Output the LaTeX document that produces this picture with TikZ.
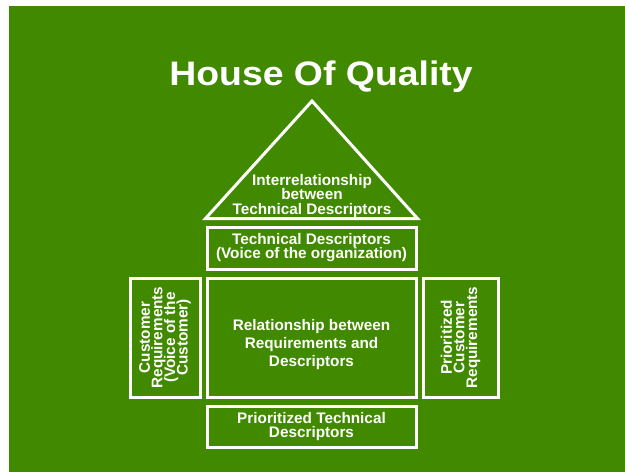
\documentclass[tikz,border=0pt]{standalone}
\usepackage{fontspec}
\setmainfont{Liberation Sans}
\newfontfamily\titlefont[FakeStretch=1.1]{Liberation Sans}
\usetikzlibrary{positioning}
\definecolor{housegreen}{RGB}{65,138,0}
\newcommand\tightlines{\lineskiplimit -20pt\relax}

\begin{document}
\begin{tikzpicture}[x=1pt, y=-1pt,
  part/.style={draw=white, line width=3pt, minimum width=209pt},
  words/.style={text=white, align=center, inner sep=0pt,
    font={\bfseries\fontsize{15.3}{#1}\selectfont\tightlines}},
  words/.default=14]
  \useasboundingbox (0,0) rectangle (625,472);
  \fill[white] (0,0) rectangle (625,472);
  \fill[housegreen] (9,6) rectangle (625,472);

  \node[text=white, anchor=base, font=\titlefont\bfseries\fontsize{34}{40}\selectfont](Title) at (321,85){House Of Quality};

  \node[part, minimum height=119pt](REL) at (311.5,337.5){};
  \node[words=18.3, yshift=-7pt](RELtext) at (REL){Relationship between\\Requirements and\\Descriptors};
  \node[part, words, minimum height=42pt, above=6pt of REL](TD){Technical Descriptors\\(Voice of the organization)};
  \node[part, words, minimum height=41pt, below=6pt of REL](PTD){Prioritized Technical\\Descriptors};
  \node[part, words=12.6, rotate=90, minimum width=119pt, minimum height=70pt](CR) at (165,337.5){Customer\\Requirements\\(Voice of the\\Customer)};
  \node[part, words=12.6, rotate=90, minimum width=119pt, minimum height=75pt](PCR) at (460.5,337.5){Prioritized\\Customer\\Requirements};

  % roof
  \coordinate[above=7pt of TD.north west](RoofL);
  \coordinate[above=7pt of TD.north east](RoofR);
  \coordinate(RoofTop) at (312,101);
  \draw[white, line width=3pt] (RoofL) -- (RoofTop) -- (RoofR) -- cycle;
  \node[words=14.3](IRT) at (312,196){Interrelationship\\between\\Technical Descriptors};
\end{tikzpicture}
\end{document}
